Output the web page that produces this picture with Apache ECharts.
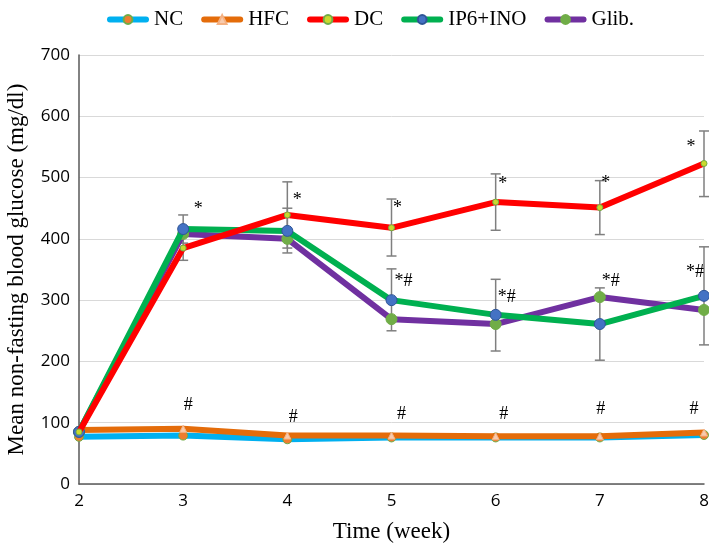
<!DOCTYPE html>
<html>
<head>
<meta charset="utf-8">
<script src="https://cdn.jsdelivr.net/npm/echarts@6/dist/echarts.min.js"></script>
<style>html,body{margin:0;padding:0;background:#fff}#c{width:709px;height:547px}</style>
</head>
<body>
<div id="c"></div>
<script>
// ---- data ----
var weeks = ['2', '3', '4', '5', '6', '7', '8'];
var yTicks = [0, 100, 200, 300, 400, 500, 600, 700];
var NC = [77, 79, 73, 76, 76, 76, 80];
var HFC = [88, 90, 79, 79, 78, 78, 84];
var DC = [85, 385, 439, 418, 460, 451, 523];
var IP6 = [85, 416, 413, 300, 276, 261, 307];
var GLIB = [85, 408, 400, 269, 261, 305, 284];
// error bars: [week index, low, high]
var DC_err = [[1, 365, 405], [2, 385, 493], [3, 372, 465], [4, 414, 506], [5, 407, 495], [6, 469, 576]];
var IP6_err = [[1, 393, 439], [2, 377, 450], [3, 250, 351], [4, 217, 334], [5, 202, 320], [6, 227, 387]];
// annotations: [week index, value position, pixel dx]
var starMarks = [[1, 449, 15], [2, 463, 10], [3, 450, 6], [4, 489, 7], [5, 491, 6], [6, 550, -13]];
var starHashMarks = [[3, 330, 12], [4, 305, 11], [5, 330, 11], [6, 346, -9]];
var hashMarks = [[1, 129, 5], [2, 109, 6], [3, 114, 10], [4, 114, 8], [5, 122, 1], [6, 122, -10]];

var chart = echarts.init(document.getElementById('c'), null, {renderer: 'canvas'});
var serif = '"Liberation Serif", "Times New Roman", serif';
var sans = '"Open Sans", "Liberation Sans", sans-serif';

function lineSeries(name, data, color, width, symbol, size, fill, border, z) {
  return {
    name: name, type: 'line', data: data, z: z,
    symbol: symbol, symbolSize: size, showSymbol: true,
    lineStyle: {color: color, width: width},
    itemStyle: {color: fill, borderColor: border, borderWidth: 1},
    emphasis: {disabled: true},
    animation: false
  };
}

function errSeries(data) {
  return {
    type: 'custom', data: data, z: 1, animation: false, silent: true,
    renderItem: function (params, api) {
      var x = api.value(0);
      var lo = api.coord([x, api.value(1)]);
      var hi = api.coord([x, api.value(2)]);
      var w = 5;
      var st = {stroke: '#7f7f7f', lineWidth: 1.5};
      return {type: 'group', children: [
        {type: 'line', shape: {x1: lo[0], y1: lo[1], x2: hi[0], y2: hi[1]}, style: st},
        {type: 'line', shape: {x1: lo[0] - w, y1: lo[1], x2: lo[0] + w, y2: lo[1]}, style: st},
        {type: 'line', shape: {x1: hi[0] - w, y1: hi[1], x2: hi[0] + w, y2: hi[1]}, style: st}
      ]};
    }
  };
}

function textSeries(marks, txt) {
  return {
    type: 'custom', z: 10, animation: false, silent: true,
    data: marks,
    renderItem: function (params, api) {
      var p = api.coord([api.value(0), api.value(1)]);
      return {type: 'text', x: p[0] + api.value(2), y: p[1],
        style: {text: txt, font: '18px ' + serif, fill: '#000', align: 'center', verticalAlign: 'middle'}};
    }
  };
}

var option = {
  backgroundColor: '#fff',
  animation: false,
  legend: {
    top: 4, left: 102,
    itemWidth: 36, itemHeight: 11, itemGap: 18,
    lineStyle: {width: 6, cap: 'round'},
    textStyle: {fontFamily: serif, fontSize: 21, color: '#000', padding: [0, 0, 0, 3]},
    data: ['NC', 'HFC', 'DC', 'IP6+INO', 'Glib.']
  },
  grid: {left: 79, right: 5, top: 55, bottom: 63, containLabel: false, outerBoundsMode: 'none'},
  xAxis: {
    type: 'category', data: weeks, boundaryGap: false,
    name: 'Time (week)', nameLocation: 'middle', nameGap: 36,
    nameTextStyle: {fontFamily: serif, fontSize: 23, color: '#000'},
    axisLine: {lineStyle: {color: '#595959', width: 1.5}},
    axisTick: {show: false},
    axisLabel: {fontFamily: sans, fontSize: 17, color: '#000', margin: 9},
    splitLine: {show: false}
  },
  yAxis: {
    type: 'value', min: yTicks[0], max: yTicks[yTicks.length - 1], interval: 100,
    name: 'Mean non-fasting blood glucose (mg/dl)', nameLocation: 'middle', nameGap: 51,
    nameTextStyle: {fontFamily: serif, fontSize: 23, color: '#000'},
    axisLine: {show: true, lineStyle: {color: '#595959', width: 1.5}},
    axisTick: {show: false},
    axisLabel: {fontFamily: sans, fontSize: 17, color: '#000', margin: 9},
    splitLine: {lineStyle: {color: '#d9d9d9', width: 1}}
  },
  series: [
    errSeries(DC_err),
    errSeries(IP6_err),
    lineSeries('NC', NC, '#00B0F0', 6, 'circle', 9, '#ED7D31', '#70AD47', 2),
    lineSeries('HFC', HFC, '#E46C0A', 6, 'triangle', 7, '#F8CBAD', '#F4B183', 3),
    lineSeries('Glib.', GLIB, '#7030A0', 6, 'circle', 11, '#70AD47', '#70AD47', 4),
    lineSeries('IP6+INO', IP6, '#00B050', 6, 'circle', 11, '#4472C4', '#2F5597', 5),
    lineSeries('DC', DC, '#FF0000', 6, 'circle', 6, '#C9D92E', '#70AD47', 6),
    textSeries(starMarks, '*'),
    textSeries(starHashMarks, '*#'),
    textSeries(hashMarks, '#')
  ]
};
chart.setOption(option);
</script>
</body>
</html>
